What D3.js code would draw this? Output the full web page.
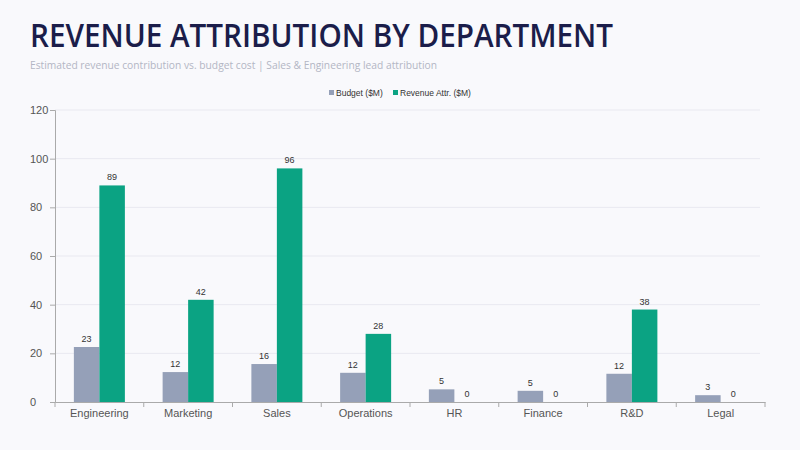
<!DOCTYPE html>
<html><head><meta charset="utf-8">
<script src="https://cdn.jsdelivr.net/npm/d3@7"></script>
<style>
html,body{margin:0;padding:0;background:#f9f9fc;}
svg{display:block;}
</style></head>
<body><svg id="c" width="800" height="450"></svg>
<script>
const departments = ["Engineering","Marketing","Sales","Operations","HR","Finance","R&D","Legal"];
const budget = [22.6, 12.3, 15.6, 12.0, 5.2, 4.6, 11.6, 2.8];
const revenue = [89, 42, 96, 28, 0, 0, 38, 0];
const seriesNames = ["Budget ($M)", "Revenue Attr. ($M)"];
const yTicks = [0,20,40,60,80,100,120];

const colors = ["#95a0b8", "#0ba383"];
const svg = d3.select("#c");
const W = 800, H = 450;
const m = {l:55, r:35, t:110, b:48};
const x0 = d3.scaleBand().domain(departments).range([m.l, W - m.r]).paddingInner(0).paddingOuter(0);
const x1 = d3.scaleBand().domain([0,1]).range([0, x0.bandwidth()]).paddingInner(0).paddingOuter(0.74);
const y = d3.scaleLinear().domain([0,120]).range([H - m.b, m.t]);

svg.append("text").attr("x",30).attr("y",46.5).text("REVENUE ATTRIBUTION BY DEPARTMENT")
  .attr("font-family","'Open Sans', sans-serif").attr("font-weight",600).attr("font-size",32)
  .attr("fill","#1b1d4a").attr("textLength",583).attr("lengthAdjust","spacingAndGlyphs");
svg.append("text").attr("x",30).attr("y",69).text("Estimated revenue contribution vs. budget cost | Sales & Engineering lead attribution")
  .attr("font-family","'Open Sans', sans-serif").attr("font-size",10.5).attr("fill","#b3b6c4")
  .attr("textLength",407).attr("lengthAdjust","spacingAndGlyphs");

// grid
svg.append("g").selectAll("line").data(yTicks.filter(d=>d>0)).join("line")
  .attr("x1",m.l).attr("x2",W-m.r-5).attr("y1",d=>y(d)).attr("y2",d=>y(d))
  .attr("stroke","#e9e9f0").attr("stroke-width",1);

// legend
const lg = svg.append("g").attr("font-family","'Liberation Sans', Arial, sans-serif").attr("font-size",8.5).attr("fill","#333");
const legX = [329, 393];
seriesNames.forEach((s,i)=>{
  lg.append("rect").attr("x",legX[i]).attr("y",90).attr("width",5).attr("height",5).attr("fill",colors[i]);
  lg.append("text").attr("x",legX[i]+7).attr("y",95.5).text(s);
});

// bars
const data = departments.map((d,i)=>({d, vals:[budget[i], revenue[i]]}));
const g = svg.append("g");
const grp = g.selectAll("g").data(data).join("g").attr("transform",d=>`translate(${x0(d.d)},0)`);
grp.selectAll("rect").data(d=>d.vals.map((v,i)=>({v,i}))).join("rect")
  .attr("x",d=>x1(d.i)).attr("width",x1.bandwidth())
  .attr("y",d=>y(d.v)).attr("height",d=>y(0)-y(d.v)).attr("fill",d=>colors[d.i]);
grp.selectAll("text").data(d=>d.vals.map((v,i)=>({v,i}))).join("text")
  .attr("x",d=>x1(d.i)+x1.bandwidth()/2).attr("y",d=>y(d.v)-5)
  .attr("text-anchor","middle").attr("font-family","'Liberation Sans', Arial, sans-serif")
  .attr("font-size",9).attr("fill","#333").text(d=>Math.round(d.v));

// axes
const ya = svg.append("g").attr("transform",`translate(${m.l},0)`)
  .call(d3.axisLeft(y).tickValues(yTicks).tickSize(5).tickPadding(14));
const xa = svg.append("g").attr("transform",`translate(0,${y(0)})`)
  .call(d3.axisBottom(x0).tickSize(0).tickPadding(7));
// band edge ticks
svg.append("g").selectAll("line").data(departments.map(d=>x0(d)).concat([x0.range()[1]])).join("line")
  .attr("x1",d=>d).attr("x2",d=>d).attr("y1",y(0)).attr("y2",y(0)+5).attr("stroke","#aaa");
[ya,xa].forEach(a=>{
  a.selectAll("path").attr("stroke","#aaa");
  a.selectAll("line").attr("stroke","#aaa");
  a.selectAll("text").attr("font-family","'Liberation Sans', Arial, sans-serif").attr("font-size",11).attr("fill","#555");
});
ya.selectAll("text").attr("text-anchor","start").attr("x",-25);
</script></body></html>
